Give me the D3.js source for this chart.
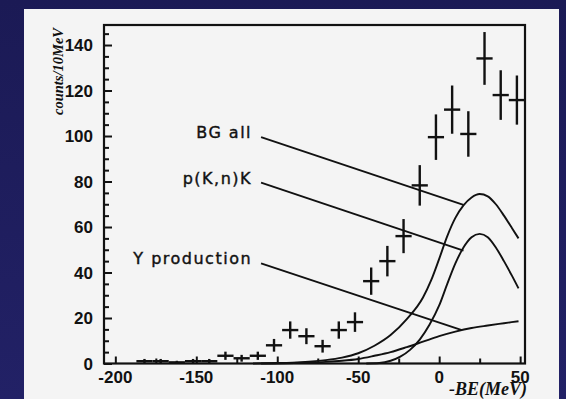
<!DOCTYPE html>
<html>
<head>
<meta charset="utf-8">
<script src="https://cdn.jsdelivr.net/npm/d3@7"></script>
<style>
  html, body { margin: 0; padding: 0; background: #1d1c5c; }
  svg { display: block; }
</style>
</head>
<body>
<svg id="chart" width="566" height="399"></svg>
<script>
// Missing-mass spectrum: counts per 10 MeV bin vs -BE
const binCenters = [-202, -192, -182, -172, -162, -152, -142, -132, -122, -112,
                    -102, -92, -82, -72, -62, -52, -42, -32, -22, -12,
                    -2, 8, 18, 28, 38, 48];
const counts = [0, 0, 1, 1, 0.5, 1, 1, 3.4, 2.3, 3.4,
                8, 14.7, 12, 7.6, 14.7, 18.2, 36.2, 45, 56, 78.3,
                99.5, 111.6, 100.9, 134.1, 118, 115.8];
const errors = [0, 0, 1, 1, 0.7, 1, 1, 1.8, 1.5, 1.8,
                2.8, 3.8, 3.5, 2.8, 3.8, 4.3, 6, 6.7, 7.5, 8.9,
                10, 10.6, 10, 11.6, 10.9, 10.8];
const binWidth = 10;

// Background model curves
const bgAllX = [-115, -100, -85, -70, -60, -50, -40, -30, -20, -10, -5, 0, 5, 10, 15, 20, 25, 30, 35, 40, 45, 49];
const bgAllY = [0, 0.2, 0.6, 1.5, 2.6, 4.5, 7.8, 12.5, 19.5, 29, 36.5, 46, 56, 64, 69.5, 73, 74.5, 73.5, 70, 65, 59.5, 55];

const pKnX = [-45, -37, -30, -24, -18, -12, -6, 0, 5, 10, 15, 20, 25, 30, 35, 40, 45, 49];
const pKnY = [0, 0.2, 1.2, 3, 6, 10.5, 17, 25.5, 35, 44, 51, 55.5, 57, 55.5, 51, 45, 38.5, 33];

const yProdX = [-110, -95, -84, -70, -60, -50, -40, -30, -20, -10, 0, 10, 20, 30, 40, 49];
const yProdY = [0, 0.1, 0.3, 0.7, 1.2, 2, 3.4, 5, 7.2, 9.6, 12, 14, 15.6, 16.7, 17.7, 18.6];

// Curve labels with pointer lines (data coordinates)
const curveLabels = ["BG all", "p(K,n)K", "Y production"];
const pointerStartX = -110;
const pointerStartY = [99.5, 79.5, 44];
const pointerEndX = [15, 15, 14];
const pointerEndY = [69.7, 49.6, 14.7];

// Axes
const xTicks = [-200, -150, -100, -50, 0, 50];
const xMinorTicks = [-175, -125, -75, -25, 25];
const yTicks = [0, 20, 40, 60, 80, 100, 120, 140];
const yMinorTicks = d3.range(0, 149, 5).filter(v => v % 20 !== 0);
const xTitle = "-BE(MeV)";
const yTitle = "counts/10MeV";

const svg = d3.select("#chart");

// outer navy frame with a faint gradient
const defs = svg.append("defs");
const grad = defs.append("linearGradient").attr("id", "navy")
  .attr("x1", 0).attr("y1", 0).attr("x2", 0).attr("y2", 1);
grad.append("stop").attr("offset", "0%").attr("stop-color", "#1b1a55");
grad.append("stop").attr("offset", "100%").attr("stop-color", "#222166");
svg.append("rect").attr("width", 566).attr("height", 399).attr("fill", "url(#navy)");

// light panel
svg.append("rect").attr("x", 24).attr("y", 9).attr("width", 535).attr("height", 390)
  .attr("fill", "#f4f4f4");

const x = d3.scaleLinear().domain([-207, 53]).range([104, 525]);
const y = d3.scaleLinear().domain([0, 148.8]).range([363.5, 25]);

const ink = "#111";

// frame
svg.append("rect")
  .attr("x", x.range()[0]).attr("y", y.range()[1])
  .attr("width", x.range()[1] - x.range()[0])
  .attr("height", y.range()[0] - y.range()[1])
  .attr("fill", "none").attr("stroke", ink).attr("stroke-width", 2.2);

// left axis ticks (inward)
const yAxis = d3.axisRight(y).tickValues(yTicks).tickSize(8).tickFormat("");
svg.append("g").attr("transform", `translate(${x.range()[0]},0)`).call(yAxis)
  .call(g => g.select(".domain").remove())
  .call(g => g.selectAll("line").attr("stroke", ink).attr("stroke-width", 2));
const yAxisMinor = d3.axisRight(y).tickValues(yMinorTicks).tickSize(5).tickFormat("");
svg.append("g").attr("transform", `translate(${x.range()[0]},0)`).call(yAxisMinor)
  .call(g => g.select(".domain").remove())
  .call(g => g.selectAll("line").attr("stroke", ink).attr("stroke-width", 2));

// y tick labels
svg.append("g").selectAll("text").data(yTicks).join("text")
  .attr("x", x.range()[0] - 11).attr("y", d => y(d))
  .attr("dy", "0.36em")
  .attr("text-anchor", "end")
  .attr("font-family", "'Liberation Sans', Arial, sans-serif")
  .attr("font-weight", "bold").attr("font-size", 17)
  .attr("fill", ink)
  .text(d => d);

// bottom axis ticks (inward)
const xAxis = d3.axisTop(x).tickValues(xTicks).tickSize(7).tickFormat("");
svg.append("g").attr("transform", `translate(0,${y.range()[0]})`).call(xAxis)
  .call(g => g.select(".domain").remove())
  .call(g => g.selectAll("line").attr("stroke", ink).attr("stroke-width", 2));
const xAxisMinor = d3.axisTop(x).tickValues(xMinorTicks).tickSize(5).tickFormat("");
svg.append("g").attr("transform", `translate(0,${y.range()[0]})`).call(xAxisMinor)
  .call(g => g.select(".domain").remove())
  .call(g => g.selectAll("line").attr("stroke", ink).attr("stroke-width", 2));

// x tick labels
svg.append("g").selectAll("text").data(xTicks).join("text")
  .attr("x", d => x(d)).attr("y", 383)
  .attr("text-anchor", "middle")
  .attr("font-family", "'Liberation Sans', Arial, sans-serif")
  .attr("font-weight", "bold").attr("font-size", 17)
  .attr("fill", ink)
  .text(d => d);

// axis titles
svg.append("text")
  .attr("x", 527).attr("y", 395)
  .attr("text-anchor", "end")
  .attr("font-family", "'Liberation Serif', 'Times New Roman', serif")
  .attr("font-weight", "bold").attr("font-style", "italic").attr("font-size", 18)
  .attr("fill", ink)
  .text(xTitle);

svg.append("text")
  .attr("transform", "translate(63,28) rotate(-90)")
  .attr("text-anchor", "end")
  .attr("font-family", "'Liberation Serif', 'Times New Roman', serif")
  .attr("font-weight", "bold").attr("font-style", "italic").attr("font-size", 14.5)
  .attr("fill", ink)
  .text(yTitle);

// model curves
const line = d3.line().x(d => x(d[0])).y(d => y(d[1])).curve(d3.curveMonotoneX);
const curves = [
  d3.zip(bgAllX, bgAllY),
  d3.zip(pKnX, pKnY),
  d3.zip(yProdX, yProdY)
];
svg.append("g").selectAll("path").data(curves).join("path")
  .attr("d", line)
  .attr("fill", "none").attr("stroke", ink).attr("stroke-width", 1.9);

// pointer lines and labels
const ann = svg.append("g");
curveLabels.forEach((label, i) => {
  ann.append("line")
    .attr("x1", x(pointerStartX)).attr("y1", y(pointerStartY[i]))
    .attr("x2", x(pointerEndX[i])).attr("y2", y(pointerEndY[i]))
    .attr("stroke", ink).attr("stroke-width", 1.9);
  ann.append("text")
    .attr("x", x(pointerStartX) - 9).attr("y", y(pointerStartY[i]) + 1)
    .attr("text-anchor", "end")
    .attr("font-family", "'DejaVu Sans', sans-serif")
    .attr("font-size", 16).attr("letter-spacing", 1.5)
    .attr("fill", ink).attr("stroke", ink).attr("stroke-width", 0.4)
    .text(label);
});

// data points with error bars
const pts = d3.zip(binCenters, counts, errors).filter(d => d[1] > 0);
const marks = svg.append("g").attr("stroke", ink).attr("stroke-width", 2.4);
marks.selectAll("line.h").data(pts).join("line").attr("class", "h")
  .attr("x1", d => x(d[0] - binWidth / 2)).attr("x2", d => x(d[0] + binWidth / 2))
  .attr("y1", d => y(d[1])).attr("y2", d => y(d[1]));
marks.selectAll("line.v").data(pts).join("line").attr("class", "v")
  .attr("x1", d => x(d[0])).attr("x2", d => x(d[0]))
  .attr("y1", d => y(Math.max(0, d[1] - d[2]))).attr("y2", d => y(d[1] + d[2]));
</script>
</body>
</html>
